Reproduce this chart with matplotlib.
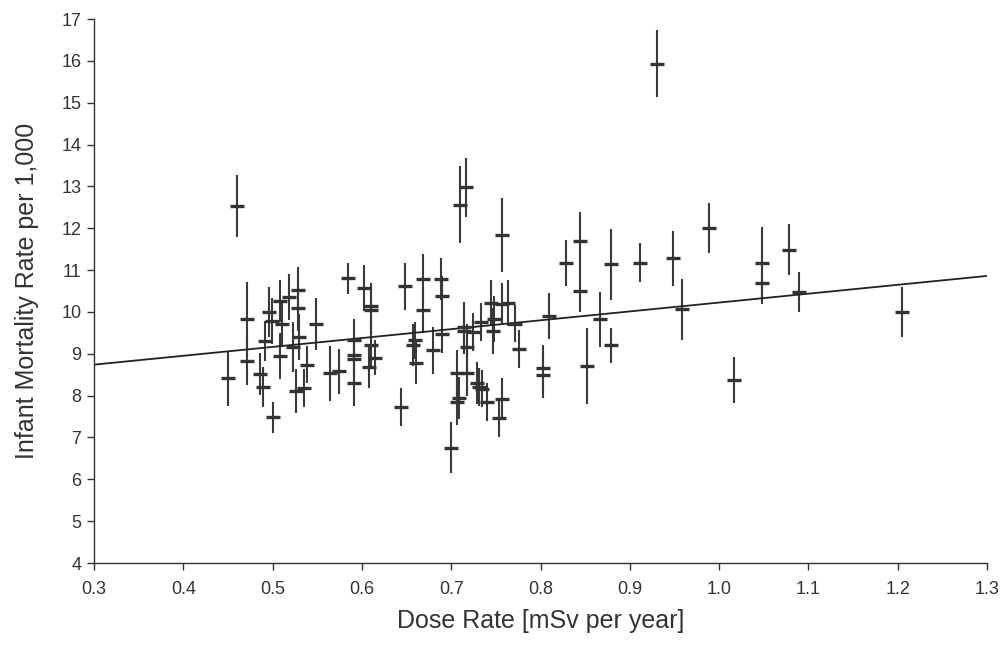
import matplotlib
matplotlib.use("Agg")
import matplotlib.pyplot as plt

# dose rate (mSv per year), infant mortality per 1,000, half error bar
dose = [0.450, 0.460, 0.471, 0.471, 0.486, 0.489, 0.491, 0.496, 0.499, 0.500,
        0.508, 0.508, 0.510, 0.518, 0.523, 0.526, 0.528, 0.528, 0.530, 0.535,
        0.539, 0.549, 0.564, 0.574, 0.584, 0.591, 0.591, 0.591, 0.591, 0.602,
        0.610, 0.610, 0.610, 0.615, 0.608, 0.644, 0.648, 0.657, 0.660, 0.661,
        0.668, 0.668, 0.680, 0.689, 0.690, 0.690, 0.700, 0.706, 0.707, 0.709,
        0.710, 0.714, 0.714, 0.717, 0.718, 0.718, 0.724, 0.729, 0.731, 0.734,
        0.733, 0.740, 0.745, 0.748, 0.747, 0.754, 0.757, 0.757, 0.757, 0.764,
        0.771, 0.776, 0.803, 0.803, 0.810, 0.828, 0.844, 0.844, 0.852, 0.867,
        0.879, 0.879, 0.911, 0.930, 0.948, 0.958, 0.989, 1.017, 1.048, 1.048,
        1.078, 1.089, 1.205]
mortality = [8.41, 12.53, 9.82, 8.82, 8.51, 8.21, 9.31, 10.00, 9.78, 7.48,
             10.26, 8.94, 9.72, 10.36, 9.17, 8.11, 10.53, 10.09, 9.40, 8.18,
             8.74, 9.72, 8.53, 8.58, 10.81, 9.32, 8.96, 8.87, 8.31, 10.57,
             10.13, 10.04, 9.20, 8.91, 8.69, 7.73, 10.61, 9.21, 9.32, 8.77,
             10.79, 10.05, 9.08, 10.79, 10.37, 9.47, 6.76, 7.85, 8.54, 7.95,
             12.56, 9.64, 9.55, 12.98, 9.15, 8.54, 9.52, 8.31, 8.21, 8.17,
             9.76, 7.85, 10.21, 9.82, 9.55, 7.47, 11.84, 10.20, 7.93, 10.21,
             9.72, 9.12, 8.66, 8.50, 9.90, 11.17, 11.69, 10.51, 8.71, 9.82,
             11.14, 9.20, 11.18, 15.93, 11.28, 10.06, 12.00, 8.37, 11.17, 10.68,
             11.49, 10.48, 10.00]
err = [0.66, 0.75, 0.90, 0.57, 0.50, 0.48, 0.48, 0.60, 0.55, 0.37,
       0.50, 0.55, 0.55, 0.55, 0.60, 0.53, 0.55, 0.55, 0.55, 0.45,
       0.45, 0.62, 0.65, 0.53, 0.37, 0.50, 0.45, 0.45, 0.55, 0.55,
       0.55, 0.60, 0.55, 0.41, 0.50, 0.46, 0.57, 0.50, 0.45, 0.50,
       0.59, 0.55, 0.57, 0.50, 0.50, 0.45, 0.60, 0.55, 0.55, 0.50,
       0.92, 0.60, 0.55, 0.70, 0.55, 0.55, 0.45, 0.50, 0.45, 0.45,
       0.45, 0.45, 0.55, 0.55, 0.55, 0.45, 0.88, 0.50, 0.50, 0.55,
       0.45, 0.45, 0.55, 0.55, 0.55, 0.55, 0.70, 0.50, 0.90, 0.65,
       0.85, 0.42, 0.47, 0.80, 0.65, 0.72, 0.60, 0.55, 0.87, 0.50,
       0.60, 0.48, 0.60]

# regression line end points
fit_x = [0.3, 1.3]
fit_y = [8.74, 10.86]

plt.rcParams['font.family'] = ['Liberation Sans', 'DejaVu Sans']
ink = '#333333'

fig = plt.figure(figsize=(10.03, 6.47), dpi=100)
ax = fig.add_axes([94 / 1003, 84 / 647, 893 / 1003, 544 / 647])

ax.errorbar(dose, mortality, yerr=err, fmt='_', color=ink, ecolor='#3a3a3a',
            elinewidth=1.5, markersize=10, markeredgewidth=2.4, capsize=0)
ax.plot(fit_x, fit_y, color='#222222', linewidth=1.3)

ax.set_xlim(0.3, 1.3)
ax.set_ylim(4, 17)
ax.set_xticks([0.3, 0.4, 0.5, 0.6, 0.7, 0.8, 0.9, 1.0, 1.1, 1.2, 1.3])
ax.set_xticklabels(['0.3', '0.4', '0.5', '0.6', '0.7', '0.8', '0.9', '1.0', '1.1', '1.2', '1.3'])
ax.set_yticks(range(4, 18))

for s in ['top', 'right']:
    ax.spines[s].set_visible(False)
for s in ['left', 'bottom']:
    ax.spines[s].set_color(ink)
    ax.spines[s].set_linewidth(1.0)
ax.tick_params(direction='out', length=5, width=1.0, color=ink,
               labelcolor=ink, labelsize=13)
ax.tick_params(axis='x', pad=8)
ax.tick_params(axis='y', pad=4)

ax.set_xlabel('Dose Rate [mSv per year]', fontsize=18, color=ink, labelpad=8)
ax.set_ylabel('Infant Mortality Rate per 1,000', fontsize=18, color=ink, labelpad=16)

fig.savefig('out.png', dpi=100)
